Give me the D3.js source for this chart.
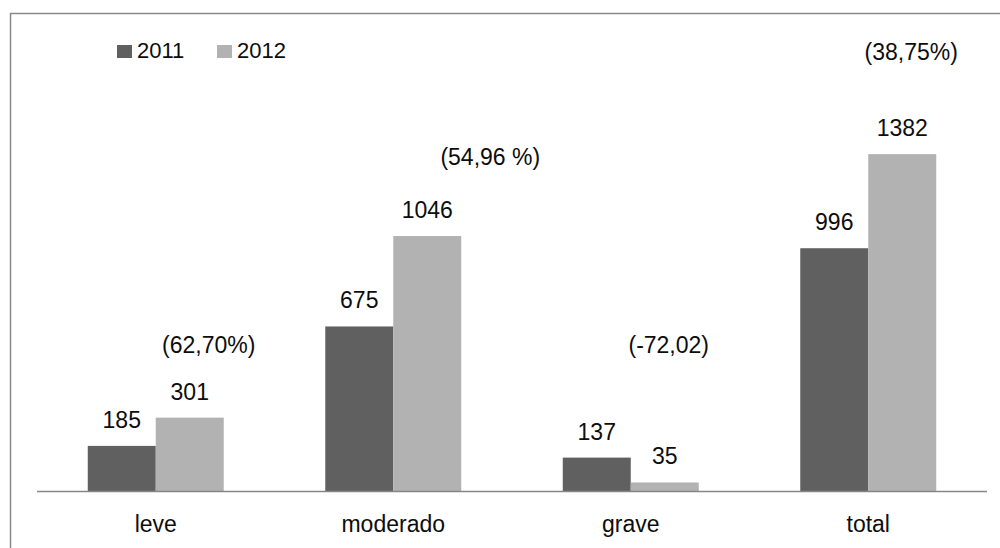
<!DOCTYPE html>
<html>
<head>
<meta charset="utf-8">
<script src="https://cdn.jsdelivr.net/npm/d3@7"></script>
<style>
    body { margin: 0; background: #fff; }
    svg text { font-family: "Liberation Sans", Arial, sans-serif; fill: #0d0d0d; }
</style>
</head>
<body>
<div id="chart"></div>
<script>
    const categories=["leve", "moderado", "grave", "total"];
    const seriesNames=["2011", "2012"];
    const values2011=[185, 675, 137, 996];
    const values2012=[301, 1046, 35, 1382];
    const changeLabels=["(62,70%)", "(54,96 %)", "(-72,02)", "(38,75%)"];

    const width=1000;
    const height=548;
    const colors=["#606060", "#b2b2b2"];

    // where each change note sits: offset from the group centre, height in value units
    const notePlace=[[53, 567], [97, 1339], [38, 567], [43, 1770]];

    const svg=d3.select("#chart")
        .append("svg")
        .attr("width", width)
        .attr("height", height);

    // outer frame
    svg.append("rect")
        .attr("x", 10.5)
        .attr("y", 13.5)
        .attr("width", width)
        .attr("height", height)
        .attr("fill", "none")
        .attr("stroke", "#8a8a8a")
        .attr("stroke-width", 1.5);

    const x0=d3.scaleBand()
        .domain(categories)
        .range([37, 987])
        .paddingInner(0.4274)
        .paddingOuter(0.2137);

    const x1=d3.scaleBand()
        .domain(seriesNames)
        .range([0, x0.bandwidth()]);

    const y=d3.scaleLinear()
        .domain([0, 1600])
        .range([491, 101]);

    const rows=categories.map((c, i) => ({
        cat: c,
        vals: [
            {key: "2011", value: values2011[i]},
            {key: "2012", value: values2012[i]}
        ]
    }));

    const groups=svg.selectAll(".grp")
        .data(rows)
        .enter().append("g")
        .attr("class", "grp")
        .attr("transform", d => `translate(${x0(d.cat)},0)`);

    groups.selectAll("rect")
        .data(d => d.vals)
        .enter().append("rect")
        .attr("x", d => x1(d.key))
        .attr("y", d => y(d.value))
        .attr("width", x1.bandwidth())
        .attr("height", d => y(0)-y(d.value))
        .attr("fill", (d, i) => colors[i]);

    groups.selectAll(".val")
        .data(d => d.vals)
        .enter().append("text")
        .attr("class", "val")
        .attr("x", d => x1(d.key)+x1.bandwidth()/2)
        .attr("y", d => y(d.value)-18)
        .attr("text-anchor", "middle")
        .attr("font-size", 23)
        .text(d => d.value);

    // baseline
    svg.append("line")
        .attr("x1", 37)
        .attr("x2", 987)
        .attr("y1", y(0)+0.5)
        .attr("y2", y(0)+0.5)
        .attr("stroke", "#868686")
        .attr("stroke-width", 1.5);

    // category labels
    svg.selectAll(".cat")
        .data(categories)
        .enter().append("text")
        .attr("class", "cat")
        .attr("x", d => x0(d)+x0.bandwidth()/2)
        .attr("y", 532)
        .attr("text-anchor", "middle")
        .attr("font-size", 23)
        .text(d => d);

    // change notes
    svg.selectAll(".note")
        .data(changeLabels)
        .enter().append("text")
        .attr("class", "note")
        .attr("x", (d, i) => x0(categories[i])+x0.bandwidth()/2+notePlace[i][0])
        .attr("y", (d, i) => y(notePlace[i][1]))
        .attr("text-anchor", "middle")
        .attr("font-size", 23)
        .text(d => d);

    // legend
    const legend=svg.selectAll(".leg")
        .data(seriesNames)
        .enter().append("g")
        .attr("class", "leg")
        .attr("transform", (d, i) => `translate(${117+i*100},45)`);

    legend.append("rect")
        .attr("width", 15)
        .attr("height", 13)
        .attr("fill", (d, i) => colors[i]);

    legend.append("text")
        .attr("x", 20)
        .attr("y", 12.5)
        .attr("font-size", 22)
        .text(d => d);
</script>
</body>
</html>
